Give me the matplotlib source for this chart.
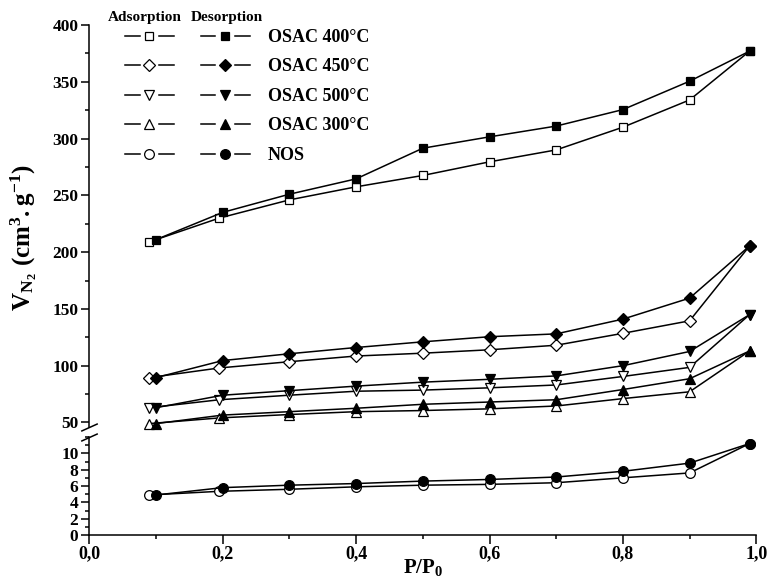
import matplotlib
matplotlib.use("Agg")
import matplotlib.pyplot as plt
from matplotlib.lines import Line2D
from matplotlib.legend_handler import HandlerBase
from matplotlib.ticker import MultipleLocator, FuncFormatter

# ---------------- data ----------------
x_ads = [0.09, 0.195, 0.3, 0.4, 0.5, 0.6, 0.7, 0.8, 0.9, 0.99]
x_des = [0.1, 0.2, 0.3, 0.4, 0.5, 0.6, 0.7, 0.8, 0.9, 0.99]

osac400_ads = [209, 230, 246, 257.5, 267.5, 279.5, 290, 310, 334, 377]
osac400_des = [211, 235, 251, 264.5, 291.5, 301.5, 311, 325.5, 350.5, 377]

osac450_ads = [89.5, 98, 103.5, 108.5, 111, 114, 118, 128.5, 139.5, 205.5]
osac450_des = [89.5, 104.5, 110.5, 116, 121, 125.5, 128, 141, 159.5, 205.5]

osac500_ads = [63, 70, 74, 77.5, 78.5, 80.5, 83, 90.5, 98.5, 145]
osac500_des = [63, 74, 78, 82, 85.5, 88, 91, 100, 112.5, 145]

osac300_ads = [49, 54, 57, 59.5, 60.5, 62, 64.5, 71, 77, 113]
osac300_des = [49, 56.5, 59.5, 62.5, 66, 68, 70, 79, 88.5, 113]

nos_ads = [4.9, 5.35, 5.6, 5.9, 6.1, 6.2, 6.4, 7.0, 7.6, 11.2]
nos_des = [4.9, 5.8, 6.1, 6.3, 6.6, 6.8, 7.1, 7.8, 8.8, 11.2]

series_labels = ["OSAC 400°C", "OSAC 450°C", "OSAC 500°C", "OSAC 300°C", "NOS"]
markers = ["s", "D", "v", "^", "o"]
msizes = [5.8, 6.6, 7.2, 7.2, 7.0]

upper_series = [(osac400_ads, osac400_des), (osac450_ads, osac450_des),
                (osac500_ads, osac500_des), (osac300_ads, osac300_des)]
lower_series = [(nos_ads, nos_des)]

x_ticks = [0.0, 0.2, 0.4, 0.6, 0.8, 1.0]
upper_ticks = [50, 100, 150, 200, 250, 300, 350, 400]
lower_ticks = [0, 2, 4, 6, 8, 10]

# ---------------- style ----------------
plt.rcParams["font.family"] = ["Liberation Serif", "DejaVu Serif"]
plt.rcParams["font.weight"] = "bold"
plt.rcParams["mathtext.fontset"] = "custom"
plt.rcParams["mathtext.rm"] = "Liberation Serif:bold"
plt.rcParams["mathtext.bf"] = "Liberation Serif:bold"
plt.rcParams["mathtext.it"] = "Liberation Serif:bold"

W, H = 767, 582
fig = plt.figure(figsize=(W / 100, H / 100), dpi=100)

left_px, right_px = 89.3, 756.3
top_px, brk_hi_px, brk_lo_px, bot_px = 25, 427, 437, 535

def fx(px):
    return px / W

def fy(py):
    return 1 - py / H

ax_top = fig.add_axes([fx(left_px), fy(brk_hi_px), fx(right_px - left_px), (brk_hi_px - top_px) / H])
ax_bot = fig.add_axes([fx(left_px), fy(bot_px), fx(right_px - left_px), (bot_px - brk_lo_px) / H])

lw = 1.1
for (ads, des), m, ms in zip(upper_series, markers[:4], msizes[:4]):
    ax_top.plot(x_ads, ads, color="k", lw=lw, marker=m, ms=ms, mfc="white", mec="k", mew=0.9, clip_on=False, zorder=3)
    ax_top.plot(x_des, des, color="k", lw=lw, marker=m, ms=ms, mfc="black", mec="k", mew=0.9, clip_on=False, zorder=4)
for (ads, des), m, ms in zip(lower_series, markers[4:], msizes[4:]):
    ax_bot.plot(x_ads, ads, color="k", lw=lw, marker=m, ms=ms, mfc="white", mec="k", mew=0.9, clip_on=False, zorder=3)
    ax_bot.plot(x_des, des, color="k", lw=lw, marker=m, ms=ms, mfc="black", mec="k", mew=0.9, clip_on=False, zorder=4)

ax_top.set_ylim(46, 400)
ax_bot.set_ylim(0, 12)
for ax in (ax_top, ax_bot):
    ax.set_xlim(0, 1.0)
    ax.spines["top"].set_visible(False)
    ax.spines["right"].set_visible(False)
    for s in ("left", "bottom"):
        ax.spines[s].set_linewidth(1.1)
    ax.tick_params(which="major", direction="out", length=5.8, width=1.1, labelsize=12.5, pad=2)
    ax.tick_params(which="minor", direction="out", length=3, width=1.1)

ax_top.spines["bottom"].set_visible(False)
ax_top.tick_params(axis="x", which="both", bottom=False, labelbottom=False)
ax_top.set_yticks(upper_ticks)
ax_top.yaxis.set_minor_locator(MultipleLocator(25))
ax_bot.set_yticks(lower_ticks)
ax_bot.yaxis.set_minor_locator(MultipleLocator(1))
ax_bot.set_xticks(x_ticks)
ax_bot.xaxis.set_minor_locator(MultipleLocator(0.1))
ax_bot.xaxis.set_major_formatter(FuncFormatter(lambda v, p: f"{v:.1f}".replace(".", ",")))
ax_bot.tick_params(axis="x", which="major", labelsize=13, length=6.5, pad=1)

# break marks
d = 0.45
kw = dict(marker=[(-1, -d), (1, d)], markersize=12, linestyle="none", color="k", mec="k", mew=1.1, clip_on=False)
ax_top.plot([0], [0], transform=ax_top.transAxes, **kw)
ax_bot.plot([0], [1], transform=ax_bot.transAxes, **kw)

# labels
ax_bot.set_xlabel(r"$\mathbf{P/P_0}$", fontsize=15, labelpad=-4)
fig.text(fx(24), fy(238), r"$\mathbf{V_{N_2}\ (cm^{3}.g^{-1})}$", rotation=90, ha="center", va="center", fontsize=18)

# legend
class GapHandler(HandlerBase):
    def create_artists(self, legend, orig, xdescent, ydescent, width, height, fontsize, trans):
        y = height / 2 - ydescent
        x0 = -xdescent
        x1 = x0 + width
        xm = (x0 + x1) / 2
        gap = 0.2 * width
        l1 = Line2D([x0, xm - gap], [y, y], color="k", lw=1.1)
        l2 = Line2D([xm + gap, x1], [y, y], color="k", lw=1.1)
        mk = Line2D([xm], [y], marker=orig.get_marker(), markersize=orig.get_markersize(),
                    mfc=orig.get_markerfacecolor(), mec="k", mew=0.9, ls="none")
        for a in (l1, l2, mk):
            a.set_transform(trans)
        return [l1, l2, mk]

ads_handles = [Line2D([], [], marker=m, ms=ms, mfc="white", mec="k", color="k") for m, ms in zip(markers, msizes)]
des_handles = [Line2D([], [], marker=m, ms=ms, mfc="black", mec="k", color="k") for m, ms in zip(markers, msizes)]
handler = GapHandler()
leg = ax_top.legend(handles=ads_handles + des_handles, labels=[""] * 5 + series_labels, ncol=2,
                    loc="upper left", bbox_to_anchor=(fx(125), fy(29)), bbox_transform=fig.transFigure,
                    frameon=False, borderpad=0, borderaxespad=0, fontsize=13,
                    handlelength=2.7, handletextpad=1.0, columnspacing=0.5, labelspacing=0.69,
                    handler_map={Line2D: handler})

fig.text(fx(145), fy(17), "Adsorption", ha="center", va="center", fontsize=11, fontweight="bold")
fig.text(fx(227), fy(17), "Desorption", ha="center", va="center", fontsize=11, fontweight="bold")

fig.savefig("out.png", dpi=100)
